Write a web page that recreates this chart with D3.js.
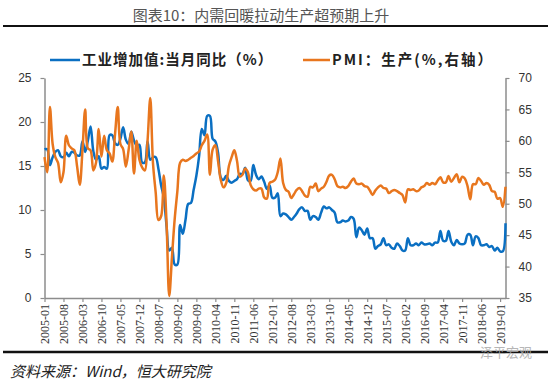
<!DOCTYPE html>
<html>
<head>
<meta charset="utf-8">
<script src="https://cdn.jsdelivr.net/npm/d3@7"></script>
<style>
  body { margin: 0; background: #fff; }
  svg { display: block; }
</style>
</head>
<body>
<svg id="chart" width="550" height="382"></svg>
<script>
// months 2005-01 .. 2019-03
const months = d3.timeMonth
  .range(new Date(2005, 0, 1), new Date(2019, 3, 1))
  .map(d3.timeFormat('%Y-%m'));

const tickLabels = [
  '2005-01', '2005-08', '2006-03', '2006-10', '2007-05', '2007-12', '2008-07',
  '2009-02', '2009-09', '2010-04', '2010-11', '2011-06', '2012-01', '2012-08',
  '2013-03', '2013-10', '2014-05', '2014-12', '2015-07', '2016-02', '2016-09',
  '2017-04', '2017-11', '2018-06', '2019-01',
];

const leftTicks = [0, 5, 10, 15, 20, 25];
const rightTicks = [35, 40, 45, 50, 55, 60, 65, 70];

// 工业增加值:当月同比 (%), left axis
const ivaYoY = [
  16.9, 16.9, 15.1, 16.0, 16.6, 16.8, 16.1, 16.0, 16.5, 16.1, 16.6, 16.5,
  16.2, 16.2, 17.8, 16.6, 17.9, 19.5, 16.7, 15.7, 16.1, 14.7, 14.9, 14.7,
  18.5, 18.5, 17.6, 17.4, 18.1, 19.4, 18.0, 17.5, 18.9, 17.9, 17.3, 17.4,
  15.4, 15.4, 17.8, 15.7, 16.0, 16.0, 14.7, 12.8, 11.4, 8.2, 5.4, 5.7,
  3.8, 3.8, 8.3, 7.3, 8.9, 10.7, 10.8, 12.3, 13.9, 16.1, 19.2, 18.5,
  20.7, 20.7, 18.1, 17.8, 16.5, 13.7, 13.4, 13.9, 13.3, 13.1, 13.3, 13.5,
  14.1, 14.1, 14.8, 13.4, 13.3, 15.1, 14.0, 13.5, 13.8, 13.2, 12.4, 12.8,
  11.4, 11.4, 11.9, 9.3, 9.6, 9.5, 9.2, 8.9, 9.2, 9.6, 10.1, 10.3,
  9.9, 9.9, 8.9, 9.3, 9.2, 8.9, 9.7, 10.4, 10.2, 10.3, 10.0, 9.7,
  8.6, 8.6, 8.8, 8.7, 8.8, 9.2, 9.0, 6.9, 8.0, 7.7, 7.2, 7.9,
  6.8, 6.8, 5.6, 5.9, 6.1, 6.8, 6.0, 6.1, 5.7, 5.6, 6.2, 5.9,
  5.4, 5.4, 6.8, 6.0, 6.0, 6.2, 6.0, 6.3, 6.1, 6.1, 6.2, 6.0,
  6.3, 6.3, 7.6, 6.5, 6.5, 7.6, 6.4, 6.0, 6.6, 6.2, 6.1, 6.2,
  7.2, 7.2, 6.0, 7.0, 6.8, 6.0, 6.0, 6.1, 5.8, 5.9, 5.4, 5.7,
  5.3, 5.3, 8.5,
];

// PMI: 生产, right axis
const pmiProd = [
  57.4, 55.0, 65.4, 59.5, 57.4, 56.5, 53.4, 55.0, 60.8, 59.3, 58.8, 58.5,
  56.0, 53.0, 58.5, 65.0, 58.8, 58.5, 55.3, 56.5, 61.9, 57.5, 60.8, 58.5,
  58.0, 56.7, 61.0, 65.4, 59.5, 58.7, 55.9, 58.5, 61.5, 54.8, 60.0, 57.0,
  55.8, 55.3, 60.0, 66.8, 56.5, 51.8, 47.4, 48.0, 54.5, 47.0, 35.3, 41.5,
  47.5, 52.0, 56.5, 57.0, 56.8, 57.0, 57.3, 57.6, 58.0, 58.3, 59.3, 60.0,
  61.0, 54.6, 58.6, 59.3, 56.8, 53.8, 52.6, 53.3, 56.0, 57.4, 58.5, 56.8,
  54.3, 54.6, 55.6, 55.0, 53.0, 52.3, 52.1, 52.4, 52.4, 51.0, 50.8, 53.3,
  53.5, 53.8, 55.0, 57.2, 53.3, 52.2, 51.9, 50.9, 51.5, 52.2, 52.5, 52.0,
  51.3, 51.1, 52.7, 52.6, 53.2, 52.0, 52.4, 52.7, 53.5, 54.5, 54.6, 53.9,
  52.8, 52.6, 52.7, 52.5, 52.8, 53.5, 54.0, 53.2, 53.1, 53.2, 52.8, 52.7,
  52.1, 51.4, 52.1, 52.6, 52.9, 52.5, 52.4, 51.7, 52.0, 52.2, 52.0, 51.7,
  51.4, 50.2, 52.3, 52.2, 52.3, 52.0, 52.1, 52.6, 52.8, 53.3, 53.0, 53.3,
  53.1, 53.7, 54.2, 53.4, 53.4, 54.4, 53.5, 54.1, 54.7, 53.4, 54.3, 54.0,
  52.8, 50.7, 53.1, 53.1, 54.1, 53.6, 53.0, 53.3, 53.0, 52.0, 51.9, 50.8,
  50.9, 49.5, 52.7,
];

const blue = '#0A6FC2';
const orange = '#E8761E';
const axisGray = '#8c8c8c';

const svg = d3.select('#chart');
const plotL = 44.5, plotR = 505.5, plotT = 78, plotB = 298;

const x = d3.scaleLinear().domain([0, months.length - 1]).range([plotL, plotR]);
const yL = d3.scaleLinear().domain([0, 25]).range([plotB, plotT]);
const yR = d3.scaleLinear().domain([35, 70]).range([plotB, plotT]);

// title and rules
svg.append('text')
  .attr('x', 261).attr('y', 21)
  .attr('text-anchor', 'middle')
  .attr('font-family', '"Noto Sans CJK SC", sans-serif')
  .attr('font-size', 15)
  .attr('fill', '#555')
  .text('图表10：内需回暖拉动生产超预期上升');
svg.append('line')
  .attr('x1', 3).attr('x2', 548).attr('y1', 26).attr('y2', 26)
  .attr('stroke', '#111').attr('stroke-width', 2);
svg.append('line')
  .attr('x1', 3).attr('x2', 548).attr('y1', 352).attr('y2', 352)
  .attr('stroke', '#111').attr('stroke-width', 2.5);

// axes
const styleAxis = (g) => {
  g.select('.domain').attr('stroke', axisGray).attr('stroke-width', 1.5);
  g.selectAll('.tick line').attr('stroke', axisGray).attr('stroke-width', 1.2);
  g.selectAll('text').attr('fill', '#333');
};

svg.append('g')
  .attr('transform', `translate(${plotL},0)`)
  .call(d3.axisLeft(yL).tickValues(leftTicks).tickSize(4).tickSizeOuter(0).tickPadding(9))
  .call(styleAxis)
  .selectAll('text')
  .attr('font-family', '"Liberation Sans", Arial, sans-serif')
  .attr('font-size', 12);

svg.append('g')
  .attr('transform', `translate(${plotR},0)`)
  .call(d3.axisRight(yR).tickValues(rightTicks).tickSize(4).tickSizeOuter(0).tickPadding(9))
  .call(styleAxis)
  .selectAll('text')
  .attr('font-family', '"Liberation Sans", Arial, sans-serif')
  .attr('font-size', 12);

const tickIdx = tickLabels.map((t) => months.indexOf(t));
svg.append('g')
  .attr('transform', `translate(0,${plotB})`)
  .call(d3.axisBottom(x).tickValues(tickIdx).tickFormat((i) => months[i]).tickSize(4).tickSizeOuter(0))
  .call(styleAxis)
  .selectAll('text')
  .attr('font-family', '"Liberation Serif", serif')
  .attr('font-size', 12)
  .attr('text-anchor', 'end')
  .attr('x', -6)
  .attr('y', 0)
  .attr('dy', '0.35em')
  .attr('transform', 'rotate(-90)');

// lines
const lineL = d3.line().x((d, i) => x(i)).y((d) => yL(d)).curve(d3.curveCatmullRom.alpha(0.5));
const lineR = d3.line().x((d, i) => x(i)).y((d) => yR(d)).curve(d3.curveCatmullRom.alpha(0.5));

svg.append('path')
  .datum(ivaYoY)
  .attr('d', lineL)
  .attr('fill', 'none')
  .attr('stroke', blue)
  .attr('stroke-width', 2.5)
  .attr('stroke-linejoin', 'round');

svg.append('path')
  .datum(pmiProd)
  .attr('d', lineR)
  .attr('fill', 'none')
  .attr('stroke', orange)
  .attr('stroke-width', 2.5)
  .attr('stroke-linejoin', 'round');

// legend
const legend = svg.append('g')
  .attr('font-family', '"Noto Sans CJK SC", sans-serif')
  .attr('font-size', 14.5)
  .attr('font-weight', 'bold')
  .attr('fill', '#222');
legend.append('line')
  .attr('x1', 50).attr('x2', 80).attr('y1', 60).attr('y2', 60)
  .attr('stroke', blue).attr('stroke-width', 2.5);
legend.append('text').attr('x', 82).attr('y', 65)
  .attr('letter-spacing', 1)
  .text('工业增加值:当月同比（%）');
legend.append('line')
  .attr('x1', 303).attr('x2', 330).attr('y1', 60).attr('y2', 60)
  .attr('stroke', orange).attr('stroke-width', 2.5);
legend.append('text').attr('x', 332).attr('y', 65)
  .attr('letter-spacing', 2)
  .text('PMI：生产(%,右轴）');

// source and watermark
svg.append('text')
  .attr('x', 10).attr('y', 377)
  .attr('font-family', '"Noto Sans CJK SC", sans-serif')
  .attr('font-size', 15)
  .attr('font-style', 'italic')
  .attr('fill', '#222')
  .text('资料来源：Wind，恒大研究院');
svg.append('text')
  .attr('x', 480).attr('y', 357)
  .attr('font-family', '"Noto Sans CJK SC", sans-serif')
  .attr('font-size', 13)
  .attr('fill', '#aaa')
  .attr('opacity', 0.85)
  .text('泽平宏观');
</script>
</body>
</html>
